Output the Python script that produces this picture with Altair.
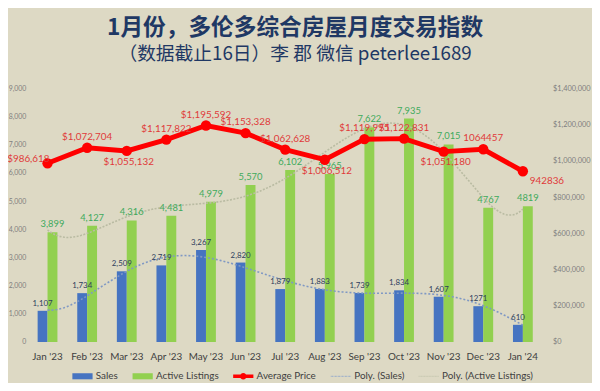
import altair as alt
import pandas as pd

months = ["Jan '23", "Feb '23", "Mar '23", "Apr '23", "May '23", "Jun '23", "Jul '23",
          "Aug '23", "Sep '23", "Oct '23", "Nov '23", "Dec '23", "Jan '24"]
sales = [1107, 1734, 2509, 2719, 3267, 2820, 1879, 1883, 1739, 1834, 1607, 1271, 610]
listings = [3899, 4127, 4316, 4481, 4979, 5570, 6102, 5965, 7622, 7935, 7015, 4767, 4819]
price = [986618, 1072704, 1055132, 1117822, 1195592, 1153328, 1062628, 1006512,
         1119995, 1122831, 1051180, 1064457, 942836]
sales_labels = ["1,107", "1,734", "2,509", "2,719", "3,267", "2,820", "1,879", "1,883",
                "1,739", "1,834", "1,607", "1271", "610"]
listings_labels = ["3,899", "4,127", "4,316", "4,481", "4,979", "5,570", "6,102", "5,965",
                   "7,622", "7,935", "7,015", "4767", "4819"]
price_labels = ["$986,618", "$1,072,704", "$1,055,132", "$1,117,822", "$1,195,592",
                "$1,153,328", "$1,062,628", "$1,006,512", "$1,119,995", "$1,122,831",
                "$1,051,180", "1064457", "942836"]
series = ["Sales", "Active Listings"]
legend_items = ["Sales", "Active Listings", "Average Price", "Poly. (Sales)",
                "Poly. (Active Listings)"]

BG = "#DDD9C4"
BLUE = "#4674C1"
GREEN = "#92D050"
RED = "#FF0000"
NAVY = "#1F3864"

rows = []
for i, m in enumerate(months):
    rows.append({"month": m, "idx": i, "series": "Sales", "value": sales[i], "label": sales_labels[i]})
    rows.append({"month": m, "idx": i, "series": "Active Listings", "value": listings[i], "label": listings_labels[i]})
bars_df = pd.DataFrame(rows)
price_df = pd.DataFrame({"month": months, "price": price, "label": price_labels})
legend_df = pd.DataFrame({"item": legend_items})

xband = alt.Scale(type="band", domain=months, paddingInner=0.5, paddingOuter=0.25)
yleft = alt.Scale(domain=[0, 9000], nice=False)
yright = alt.Scale(domain=[0, 1400000], nice=False)
NUMFONT = "Lato"

x_axis = alt.Axis(title=None, labelAngle=0, ticks=False, domain=False, grid=False,
                  labelFontSize=10, labelColor="#404040", labelFont=NUMFONT, labelPadding=10)
left_axis = alt.Axis(title=None, values=list(range(0, 9001, 1000)),
                     labelExpr="format(datum.value, ',.0f')", ticks=False,
                     domain=False, grid=False, labelFontSize=7, labelColor="#7F7F7F",
                     labelFont=NUMFONT, labelPadding=2)
right_axis = alt.Axis(title=None, orient="right", values=list(range(0, 1400001, 200000)),
                      labelExpr="'$' + format(datum.value, ',.0f')", ticks=False, domain=False,
                      grid=False, labelFontSize=7.5, labelColor="#7F7F7F", labelFont=NUMFONT,
                      labelPadding=10)

xoff = alt.XOffset("series:N", scale=alt.Scale(domain=series))

bars = alt.Chart(bars_df).mark_bar().encode(
    x=alt.X("month:N", sort=months, scale=xband, axis=x_axis),
    xOffset=xoff,
    y=alt.Y("value:Q", scale=yleft, axis=left_axis),
    color=alt.Color("series:N", scale=alt.Scale(domain=series, range=[BLUE, GREEN]), legend=None),
)

def trend(name, color, dash):
    return alt.Chart(bars_df).transform_filter(alt.datum.series == name).transform_regression(
        "idx", "value", method="poly", order=6
    ).mark_line(color=color, strokeDash=dash, strokeWidth=1.6).encode(
        x=alt.X("idx:Q", scale=alt.Scale(domain=[-0.5, 12.5], nice=False, zero=False), axis=None),
        y=alt.Y("value:Q", scale=yleft, axis=None),
    )

trend_sales = trend("Sales", "#7F98C4", [2, 2])
trend_list = trend("Active Listings", "#B9BBA2", [2, 1.5])

def bar_labels(name, color, size, dy):
    return alt.Chart(bars_df).transform_filter(alt.datum.series == name).mark_text(
        font=NUMFONT, fontSize=size, color=color, dy=dy, baseline="middle"
    ).encode(
        x=alt.X("month:N", sort=months, scale=xband, axis=None),
        xOffset=xoff,
        y=alt.Y("value:Q", scale=yleft, axis=None),
        text="label:N",
    )

sales_lab = bar_labels("Sales", "#2E3E5C", 8, -7)
list_lab = bar_labels("Active Listings", "#3DAA5C", 9.5, -8)

price_line = alt.Chart(price_df).mark_line(color=RED, strokeWidth=5).encode(
    x=alt.X("month:N", sort=months, scale=xband, axis=None),
    y=alt.Y("price:Q", scale=yright, axis=right_axis),
)
price_pts = alt.Chart(price_df).mark_point(filled=True, color=RED, size=110, opacity=1).encode(
    x=alt.X("month:N", sort=months, scale=xband, axis=None),
    y=alt.Y("price:Q", scale=yright, axis=None),
)

placements = [
    (["Feb '23", "Apr '23", "May '23", "Jun '23", "Jul '23", "Sep '23", "Oct '23", "Dec '23"], "center", 0, -11),
    (["Mar '23", "Aug '23", "Nov '23"], "center", 2, 11),
    (["Jan '23"], "right", 2, -4),
    (["Jan '24"], "left", 7, 10),
]
price_lab_layers = []
for mlist, align, dx, dy in placements:
    price_lab_layers.append(
        alt.Chart(price_df).transform_filter(alt.FieldOneOfPredicate(field="month", oneOf=mlist)).mark_text(
            font=NUMFONT, fontSize=10, color="#E0393A", align=align, dx=dx, dy=dy, baseline="middle"
        ).encode(
            x=alt.X("month:N", sort=months, scale=xband, axis=None),
            y=alt.Y("price:Q", scale=yright, axis=None),
            text="label:N",
        )
    )

def dash_path(w=0.07, gap=0.07, h=0.06):
    parts = []
    x = -1.0
    while x < 1.0:
        x2 = min(x + w, 1.0)
        parts.append(f"M{x:.3f},{-h}H{x2:.3f}V{h}H{x:.3f}Z")
        x += w + gap
    return "".join(parts)

rect_path = "M-1,-0.3H1V0.3H-1Z"
price_path = "M-1,-0.17H1V0.17H-1Z M0.33,0 A0.33,0.33 0 1,1 -0.33,0 A0.33,0.33 0 1,1 0.33,0 Z"
legend_paths = [rect_path, rect_path, price_path, dash_path(), dash_path(0.03, 0.03)]
legend_colors = [BLUE, GREEN, RED, "#8EA6CC", "#C2C4AC"]

leg = alt.Legend(title=None, orient="none", direction="horizontal", legendX=45, legendY=281,
                 symbolSize=420, symbolStrokeWidth=0, labelFont=NUMFONT, labelFontSize=10,
                 labelColor="#404040", columnPadding=14, labelOffset=3, padding=0,
                 symbolOpacity=1)
legend_layer = alt.Chart(legend_df).transform_filter("false").mark_point(filled=True, opacity=1).encode(
    color=alt.Color("item:N", scale=alt.Scale(domain=legend_items, range=legend_colors), legend=leg),
    shape=alt.Shape("item:N", scale=alt.Scale(domain=legend_items, range=legend_paths), legend=leg),
)

chart = alt.layer(
    bars, trend_sales, trend_list, sales_lab, list_lab, price_line, price_pts,
    *price_lab_layers, legend_layer
).resolve_scale(
    x="independent", y="independent", color="independent", shape="independent"
).properties(
    width=522, height=257, autosize="none",
    padding={"left": 20, "top": 79, "right": 50, "bottom": 39},
    background=BG,
    title=alt.Title(
        "1月份，多伦多综合房屋月度交易指数",
        subtitle="（数据截止16日）李 郡 微信 peterlee1689",
        anchor="middle", frame="group", font="Noto Sans CJK SC", fontSize=23,
        fontWeight="bold", color=NAVY, subtitleFont="Noto Sans CJK SC",
        subtitleFontSize=19, subtitleColor=NAVY, subtitleFontWeight="normal",
        subtitlePadding=5, offset=21, dx=10,
    ),
).configure_view(stroke=None)

chart.save("out.html", embed_options={"renderer": "svg", "actions": False})
